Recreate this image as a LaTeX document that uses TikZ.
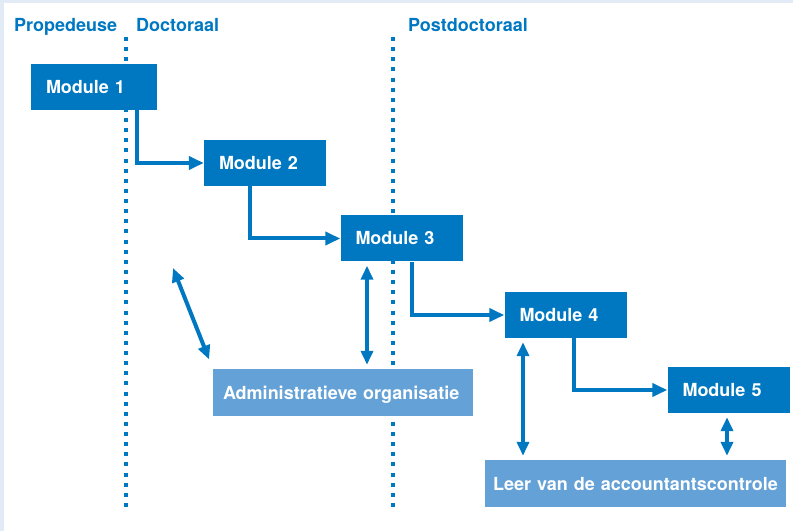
\documentclass[tikz,border=0pt]{standalone}
\usepackage{fontspec}
\setmainfont{TeX Gyre Heros}
\usetikzlibrary{arrows.meta}
\definecolor{moduleblue}{HTML}{0078C1}
\definecolor{vakblue}{HTML}{64A1D6}
\definecolor{framegray}{HTML}{E1EAF5}

\begin{document}
\begin{tikzpicture}[
  x=1pt,
  y=1pt,
  every node/.style={font=\fontsize{18}{21.6}\selectfont\bfseries},
  phase/.style={moduleblue, inner sep=0pt},
  module/.style={fill=moduleblue, text=white, minimum height=46pt,
    inner xsep=15pt, inner ysep=0pt, text width=92pt, align=left,
    text height=13pt, text depth=0pt},
  vak/.style={fill=vakblue, text=white, minimum height=47pt,
    inner xsep=10pt, inner ysep=0pt, align=left,
    text height=13pt, text depth=0pt},
  border/.style={moduleblue, line width=4pt, dash pattern=on 4pt off 6.13pt},
  flow/.style={moduleblue, line width=4pt, -{Triangle[length=15pt, width=13pt]}},
  link/.style={moduleblue, line width=4pt,
    {Triangle[length=14pt, width=12pt]}-{Triangle[length=14pt, width=12pt]},
    shorten <=4pt, shorten >=4pt}
]

  %% ---- achtergrond en rand --------------------------------------------
  \fill[framegray] (0,0) rectangle (793,531);
  \fill[white] (4,0) rectangle (793,528);
  \useasboundingbox (0,0) rectangle (793,531);

  %% ---- fasen -----------------------------------------------------------
  \draw[border] (125.5,494) -- (125.5,24);
  \draw[border] (393,494) -- (393,24);

  \node[phase, anchor=base west] (prop) at (14,499.5) {Propedeuse};
  \node[phase, anchor=base west] (doct) at (136,499.5) {Doctoraal};
  \node[phase, anchor=base west] (postdoc) at (408,499.5) {Postdoctoraal};

  %% ---- modules ---------------------------------------------------------
  \node[module, text width=96pt] (mod1) at (94,444) {Module 1};
  \node[module] (mod2) at (265,368) {Module 2};
  \node[module] (mod3) at (401.5,292.5) {Module 3};
  \node[module] (mod4) at (565.5,216) {Module 4};
  \node[module] (mod5) at (728.5,141) {Module 5};

  \node[vak, text width=240pt] (admin) at (343,138.5)
    {Administratieve organisatie};
  \node[vak, inner xsep=8pt, text width=285pt] (leer) at (635.5,47.5)
    {Leer van de accountantscontrole};

  %% ---- volgorde --------------------------------------------------------
  \draw[flow] ([xshift=43pt]mod1.south) |- (mod2.west);
  \draw[flow] ([xshift=-15pt]mod2.south) |- (mod3.west);
  \draw[flow] ([xshift=10.5pt]mod3.south) |- (mod4.west);
  \draw[flow] ([xshift=8.5pt]mod4.south) |- (mod5.west);

  %% ---- samenhang -------------------------------------------------------
  \coordinate (loose) at (173,263);
  \draw[link, shorten <=0pt, shorten >=10pt] (loose) -- (admin.north west);
  \draw[link] ([xshift=-34.5pt]mod3.south) -- ([xshift=24pt]admin.north);
  \draw[link] ([xshift=-42.5pt]mod4.south) -- ([xshift=-112.5pt]leer.north);
  \draw[link] ([xshift=-1.5pt]mod5.south) -- ([xshift=91.5pt]leer.north);

\end{tikzpicture}
\end{document}
